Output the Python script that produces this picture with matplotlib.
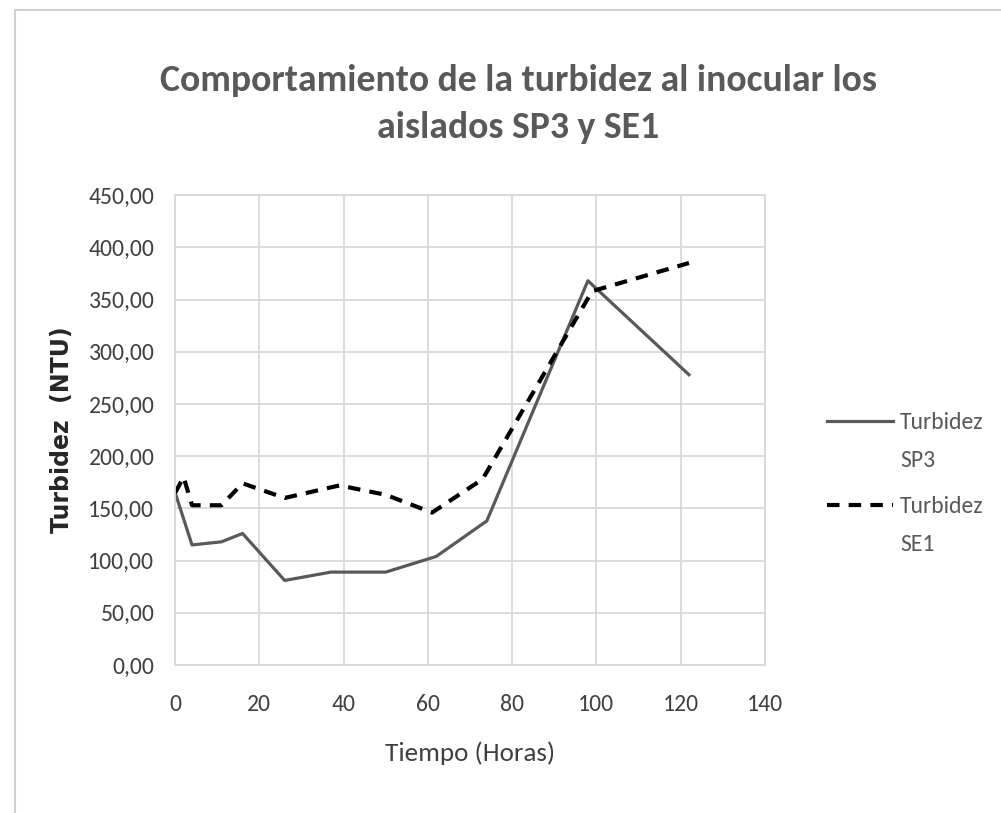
import numpy as np
import matplotlib.pyplot as plt
from matplotlib import font_manager
from matplotlib.legend_handler import HandlerLine2D
from matplotlib.patches import Rectangle

# Datos de turbidez (NTU) frente al tiempo (horas)
t_sp3 = [0, 4, 11, 16, 26, 37, 50, 62, 74, 98, 122]
turb_sp3 = [165, 115, 118, 126, 81, 89, 89, 104, 138, 368, 278]

t_se1 = [0, 2, 4, 11, 16, 26, 39, 50, 61, 73, 99, 122]
turb_se1 = [165, 180, 153, 153, 174, 160, 172, 163, 146, 178, 358, 385]

x_ticks = [0, 20, 40, 60, 80, 100, 120, 140]
y_ticks = [0, 50, 100, 150, 200, 250, 300, 350, 400, 450]

# fuente parecida a Calibri si existe
instaladas = {f.name for f in font_manager.fontManager.ttflist}
preferidas = ['Carlito', 'Barlow Semi Condensed', 'Archivo Narrow']
fuente = [f for f in preferidas if f in instaladas][:1] + ['DejaVu Sans']
gris = '#595959'


class HandlerArriba(HandlerLine2D):
    """Dibuja la muestra de la leyenda a la altura de la primera línea del texto."""
    def __init__(self, subir, **kw):
        super().__init__(**kw)
        self.subir = subir

    def create_artists(self, legend, orig_handle, xdescent, ydescent, width, height,
                       fontsize, trans):
        arts = super().create_artists(legend, orig_handle, xdescent, ydescent, width,
                                      height, fontsize, trans)
        for a in arts:
            a.set_ydata(np.asarray(a.get_ydata()) + self.subir)
        return arts


fig = plt.figure(figsize=(10.01, 8.13), dpi=100)
fig.patches.append(Rectangle((0.015, -0.01), 1.0, 0.998, transform=fig.transFigure,
                             fill=False, edgecolor='#d0d0d0', lw=1.5))

ax = fig.add_axes([0.175, 0.182, 0.589, 0.578])
l1, = ax.plot(t_sp3, turb_sp3, '-', color=gris, lw=2.3, label='Turbidez\nSP3')
l2, = ax.plot(t_se1, turb_se1, '--', color='black', lw=3, dashes=(3, 2.2),
              label='Turbidez\nSE1')

ax.set_xlim(0, 140)
ax.set_ylim(0, 450)
ax.set_xticks(x_ticks)
ax.set_yticks(y_ticks)
ax.set_yticklabels([f'{v:.2f}'.replace('.', ',') for v in y_ticks])
ax.grid(True, color='#d9d9d9', lw=1.3)
ax.set_axisbelow(True)
for s in ax.spines.values():
    s.set_color('#d9d9d9')
    s.set_linewidth(1.3)
ax.tick_params(length=0, labelsize=17, labelcolor='#404040')
ax.tick_params(axis='x', pad=21)
ax.tick_params(axis='y', pad=15)
for lab in ax.get_xticklabels() + ax.get_yticklabels():
    lab.set_family(fuente)

ax.set_xlabel('Tiempo (Horas)', fontsize=19.5, color='#404040', family=fuente,
              labelpad=19)
ax.set_ylabel('Turbidez  (NTU)', fontsize=17, fontweight='bold', color='#262626',
              labelpad=10)

fig.text(0.518, 0.872, 'Comportamiento de la turbidez al inocular los\naislados SP3 y SE1',
         ha='center', va='center', fontsize=27.2, fontweight='bold', color=gris,
         family=fuente, linespacing=1.55)

leg = ax.legend(handler_map={l1: HandlerArriba(15), l2: HandlerArriba(15)},
                loc='upper left', bbox_to_anchor=(0.826, 0.493),
                bbox_transform=fig.transFigure, frameon=False, borderpad=0,
                borderaxespad=0, labelspacing=1.05, handlelength=2.8,
                handletextpad=0.3, prop={'family': fuente, 'size': 17})
for txt in leg.get_texts():
    txt.set_color(gris)
    txt.set_linespacing(2.0)

fig.savefig('out.png', dpi=100)
